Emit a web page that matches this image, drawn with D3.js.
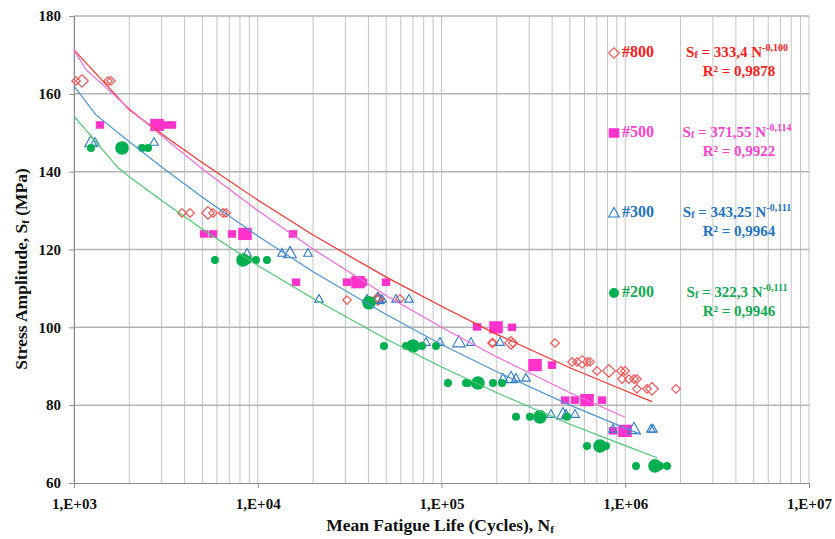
<!DOCTYPE html>
<html>
<head>
<meta charset="utf-8">
<script src="https://cdn.jsdelivr.net/npm/d3@7"></script>
<style>
  body { margin: 0; background: #fff; }
  svg { display: block; }
</style>
</head>
<body>
<div id="vis"></div>
<script>
// specimens, grit #800 (hollow diamonds)
const n800 = [1026, 1531, 1589, 3870, 4280, 5710, 6470, 6720, 30600, 44570, 45690, 59440, 188300, 190700, 245000, 414700, 513200, 546400, 619300, 643000, 702000, 948200, 996900, 960200, 1048000, 1116000, 1158000, 1158000, 1313000, 1889000]
const s800 = [163.3, 163.3, 163.3, 129.4, 129.4, 129.4, 129.4, 129.4, 107, 107.3, 107.3, 107.3, 96, 96, 96, 96, 91.1, 91.1, 91.1, 91.1, 88.8, 88.8, 88.8, 86.7, 86.7, 86.7, 86.7, 84.2, 84.2, 84.2]
const mean800N = [1105, 5360, 45100, 238900, 581700, 815900, 1398000]
const mean800S = [163.3, 129.4, 107.3, 96, 91.1, 88.8, 84.2]

// grit #500 (squares)
const n500 = [1385, 3150, 3415, 5100, 5710, 7240, 15550, 16150, 30600, 37400, 49890, 156100, 241900, 399400, 470000, 532600, 747300, 857800]
const s500 = [152, 152, 152, 124, 124, 124, 124, 111.6, 111.6, 111.6, 111.6, 100.1, 100, 90.3, 81.3, 81.3, 81.3, 73.4]
const mean500N = [2830, 8520, 35130, 198000, 322800, 619300, 996900]
const mean500S = [152, 124, 111.6, 100, 90.3, 81.3, 73.4]

// grit #300 (hollow triangles)
const n300 = [1301, 2725, 8740, 13550, 18770, 21550, 39320, 47450, 56550, 66550, 82340, 98120, 144700, 208200, 216100, 254300, 288300, 394400, 475900, 532600, 857800, 1381000, 1416000]
const s300 = [147.6, 147.6, 119.1, 119.1, 119.1, 107.3, 107.3, 107.3, 107.3, 107.3, 96.2, 96.2, 96.2, 96.2, 87, 87, 87, 77.7, 77.7, 77.7, 73.9, 73.9, 73.9]
const mean300N = [1237, 14980, 45110, 124500, 238900, 458400, 1116000]
const mean300S = [147.6, 119.1, 107.3, 96.2, 87, 77.7, 73.9]

// grit #200 (circles)
const n200 = [1237, 2345, 2528, 5850, 8850, 9780, 11230, 48650, 64110, 78320, 93350, 108500, 135900, 139400, 190700, 213400, 254300, 303000, 481900, 619300, 785600, 1144000, 1546000, 1688000]
const s200 = [146.1, 146.1, 146.1, 117.3, 117.3, 117.3, 117.3, 95.2, 95.2, 95.2, 95.2, 85.7, 85.7, 85.7, 85.7, 85.7, 77, 77, 77, 69.5, 69.5, 64.4, 64.4, 64.4]
const mean200N = [1825, 8310, 40310, 69970, 158000, 343600, 728800, 1452000]
const mean200S = [146.1, 117.3, 106.3, 95.2, 85.7, 77, 69.5, 64.4]

// trend lines as drawn
const t800N = [1000, 1590, 2000, 3000, 5000, 10000, 20000, 50000, 100000, 200000, 500000, 1000000, 1400000]
const t800S = [171.3, 161.0, 155.9, 149.7, 142.3, 132.7, 123.7, 112.9, 105.4, 98.2, 89.6, 83.7, 80.9]
const t500N = [1000, 1162, 2000, 3000, 5000, 10000, 20000, 50000, 100000, 200000, 500000, 997000]
const t500S = [171.3, 166.2, 156.2, 149.2, 140.7, 130.0, 120.1, 108.2, 100.0, 92.4, 83.2, 76.9]
const t300N = [1000, 1317, 2000, 3000, 5000, 10000, 20000, 50000, 100000, 200000, 500000, 1000000, 1218000]
const t300S = [162.0, 154.6, 147.7, 141.2, 133.4, 123.5, 114.3, 103.3, 95.6, 88.6, 80.0, 74.1, 72.5]
const t200N = [1000, 1736, 2000, 3000, 5000, 10000, 20000, 50000, 100000, 200000, 500000, 1000000, 1489000]
const t200S = [154.3, 141.0, 138.7, 132.6, 125.2, 115.9, 107.4, 97.0, 89.8, 83.2, 75.1, 69.6, 66.5]

// legend text
const seriesNames = ["#800", "#500", "#300", "#200"]
const coefs = ["333,4", "371,55", "343,25", "322,3"]
const exps = ["-0,100", "-0,114", "-0,111", "-0,111"]
const r2s = ["0,9878", "0,9922", "0,9964", "0,9946"]

const yTicks = [60, 80, 100, 120, 140, 160, 180]
const xTicks = [1e3, 1e4, 1e5, 1e6, 1e7]

const font = "'Liberation Serif', 'Times New Roman', serif"
const width = 835, height = 539
const margin = { top: 16, right: 26, bottom: 56, left: 74 }

const x = d3.scaleLog().domain([1e3, 1e7]).range([margin.left, width - margin.right])
const y = d3.scaleLinear().domain([60, 180]).range([height - margin.bottom, margin.top])

const series = [
  { name: "#800", shape: "diamond", color: "#ff4a4a", text: "#ff1a1a", line: "#ff3030", n: n800, s: s800, mn: mean800N, ms: mean800S, tn: t800N, ts: t800S },
  { name: "#500", shape: "square", color: "#ff33cc", text: "#ff40d0", line: "#ff66dd", n: n500, s: s500, mn: mean500N, ms: mean500S, tn: t500N, ts: t500S },
  { name: "#300", shape: "triangle", color: "#2e7dc6", text: "#1f73c0", line: "#4a95d8", n: n300, s: s300, mn: mean300N, ms: mean300S, tn: t300N, ts: t300S },
  { name: "#200", shape: "circle", color: "#00b050", text: "#10a850", line: "#4cc870", n: n200, s: s200, mn: mean200N, ms: mean200S, tn: t200N, ts: t200S },
]

const svg = d3.select("#vis").append("svg")
  .attr("width", width)
  .attr("height", height)
  .attr("font-family", font)

// grid
svg.append("g")
  .selectAll("line")
  .data(x.ticks())
  .join("line")
  .attr("x1", d => x(d)).attr("x2", d => x(d))
  .attr("y1", y(180)).attr("y2", y(60))
  .attr("stroke", "#c4c4c4")
  .attr("stroke-width", 1)

svg.append("g")
  .selectAll("line")
  .data(yTicks.slice(1))
  .join("line")
  .attr("x1", x(1e3)).attr("x2", x(1e7))
  .attr("y1", d => y(d)).attr("y2", d => y(d))
  .attr("stroke", "#b4b4b4")
  .attr("stroke-width", 1.5)

// axes
const yAxis = svg.append("g")
  .attr("transform", `translate(${x(1e3)},0)`)
  .call(d3.axisLeft(y).tickValues(yTicks).tickSize(5).tickSizeOuter(0).tickPadding(8))
yAxis.selectAll(".domain, line").attr("stroke", "#8c8c8c")
yAxis.selectAll("text")
  .attr("font-family", font).attr("font-size", 15).attr("font-weight", "bold").attr("fill", "#111")

const xAxis = svg.append("g")
  .attr("transform", `translate(0,${y(60)})`)
  .call(d3.axisBottom(x).tickValues(xTicks).tickSize(5).tickSizeOuter(0).tickPadding(10)
    .tickFormat(d => "1,E+0" + Math.round(Math.log10(d))))
xAxis.selectAll(".domain, line").attr("stroke", "#8c8c8c")
xAxis.selectAll("text")
  .attr("font-family", font).attr("font-size", 15).attr("font-weight", "bold").attr("fill", "#111")

// axis titles
const xTitle = svg.append("text")
  .attr("x", 440).attr("y", 531)
  .attr("text-anchor", "middle")
  .attr("font-size", 17.5).attr("font-weight", "bold").attr("fill", "#111")
xTitle.append("tspan").text("Mean Fatigue Life (Cycles), N")
xTitle.append("tspan").attr("font-size", 11).attr("dy", 2).text("f")

const yTitle = svg.append("text")
  .attr("transform", "translate(27,269) rotate(-90)")
  .attr("text-anchor", "middle")
  .attr("font-size", 17.5).attr("font-weight", "bold").attr("fill", "#111")
yTitle.append("tspan").text("Stress Amplitude, S")
yTitle.append("tspan").attr("font-size", 11).attr("dy", 2).text("f")
yTitle.append("tspan").attr("dy", -2).text(" (MPa)")

// marker paths
const marker = (shape, r) => {
  if (shape === "diamond") return `M0,${-r}L${r},0L0,${r}L${-r},0Z`
  if (shape === "square") return `M${-r},${-r * 0.9}H${r}V${r * 0.9}H${-r}Z`
  if (shape === "triangle") return `M0,${-r * 1.05}L${r},${r * 0.75}L${-r},${r * 0.75}Z`
  return d3.symbol(d3.symbolCircle, Math.PI * r * r)()
}
const filled = shape => shape === "square" || shape === "circle"

const line = d3.line().x(d => x(d[0])).y(d => y(d[1]))

// markers
series.forEach(sr => {
  const g = svg.append("g")
  const pts = sr.n.map((v, i) => [v, sr.s[i], false])
    .concat(sr.mn.map((v, i) => [v, sr.ms[i], true]))
  const small = sr.shape === "circle" ? 4 : sr.shape === "square" ? 4.2 : 4.3
  const big = sr.shape === "circle" ? 6.8 : sr.shape === "square" ? 6.8 : 6.3
  g.selectAll("path")
    .data(pts)
    .join("path")
    .attr("transform", d => `translate(${x(d[0])},${y(d[1])})`)
    .attr("d", d => marker(sr.shape, d[2] ? big : small))
    .attr("fill", filled(sr.shape) ? sr.color : "none")
    .attr("stroke", filled(sr.shape) ? "none" : sr.color)
    .attr("stroke-width", 1.1)
})

// trend lines
series.forEach(sr => {
  svg.append("path")
    .datum(sr.tn.map((v, i) => [v, sr.ts[i]]))
    .attr("d", line)
    .attr("fill", "none")
    .attr("stroke", sr.line)
    .attr("stroke-width", 1.2)
})

// legend with equations
const legend = svg.append("g")
series.forEach((sr, i) => {
  const yy = 57 + i * 80
  legend.append("path")
    .attr("transform", `translate(614,${yy - 4})`)
    .attr("d", marker(sr.shape, sr.shape === "circle" ? 5 : 5.3))
    .attr("fill", filled(sr.shape) ? sr.color : "none")
    .attr("stroke", filled(sr.shape) ? "none" : sr.color)
    .attr("stroke-width", 1.1)
  legend.append("text")
    .attr("x", 622).attr("y", yy)
    .attr("font-size", 16).attr("font-weight", "bold").attr("fill", sr.text)
    .text(seriesNames[i])

  const eq = legend.append("text")
    .attr("x", 737).attr("y", yy)
    .attr("text-anchor", "middle")
    .attr("font-size", 15).attr("font-weight", "bold").attr("fill", sr.text)
  eq.append("tspan").text("S")
  eq.append("tspan").attr("font-size", 10).attr("dy", 1).text("f")
  eq.append("tspan").attr("dy", -1).text(" = " + coefs[i] + " N")
  eq.append("tspan").attr("font-size", 10).attr("dy", -6).text(exps[i])

  legend.append("text")
    .attr("x", 739).attr("y", yy + 19)
    .attr("text-anchor", "middle")
    .attr("font-size", 15).attr("font-weight", "bold").attr("fill", sr.text)
    .text("R² = " + r2s[i])
})
</script>
</body>
</html>
